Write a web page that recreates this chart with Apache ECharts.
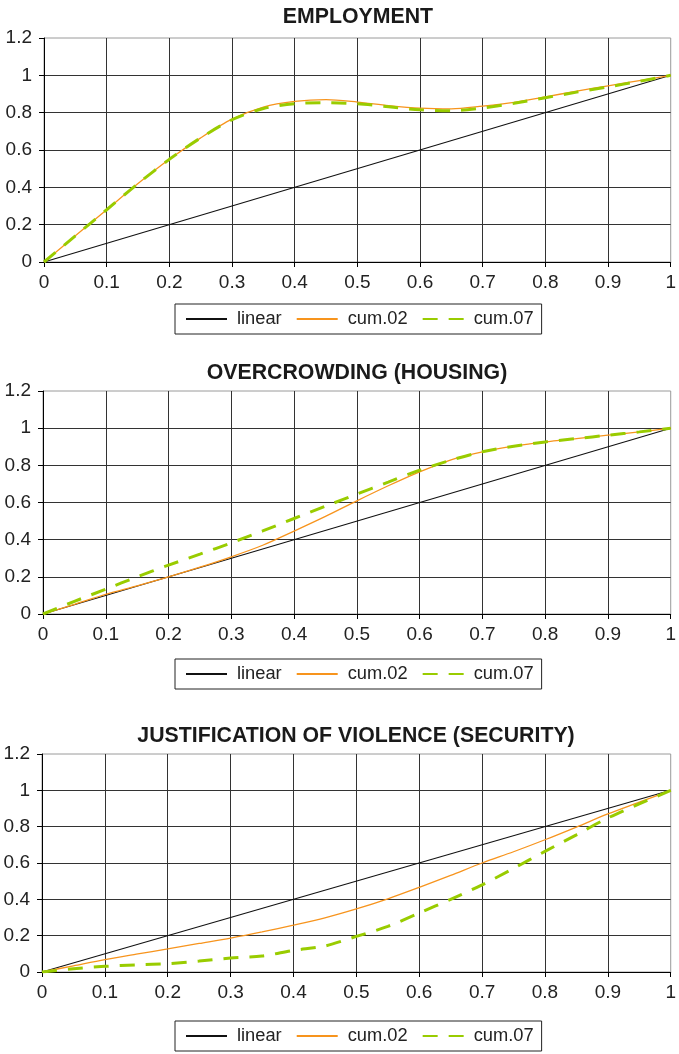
<!DOCTYPE html>
<html>
<head>
<meta charset="utf-8">
<script src="https://cdn.jsdelivr.net/npm/echarts@6/dist/echarts.min.js"></script>
<style>
html,body{margin:0;padding:0;background:#fff;}
#c{width:679px;height:1054px;}
</style>
</head>
<body>
<div id="c"></div>
<script>
// ---- data ----
const titles = ['EMPLOYMENT', 'OVERCROWDING (HOUSING)', 'JUSTIFICATION OF VIOLENCE (SECURITY)'];
const seriesNames = ['linear', 'cum.02', 'cum.07'];
const xValues = [0, 0.05, 0.1, 0.15, 0.2, 0.25, 0.3, 0.35, 0.4, 0.45, 0.5, 0.55, 0.6, 0.65, 0.7, 0.75, 0.8, 0.85, 0.9, 0.95, 1];
const linearX = [0, 1];
const linearY = [0, 1];

const employment02 = [0, 0.14, 0.28, 0.42, 0.55, 0.665, 0.765, 0.83, 0.86, 0.87, 0.857, 0.838, 0.824, 0.82, 0.835, 0.855, 0.885, 0.915, 0.944, 0.972, 1];
const employment07 = [0, 0.14, 0.28, 0.42, 0.55, 0.665, 0.762, 0.822, 0.848, 0.853, 0.848, 0.832, 0.815, 0.81, 0.825, 0.85, 0.88, 0.91, 0.938, 0.968, 1];

const housing02 = [0, 0.052, 0.106, 0.152, 0.2, 0.252, 0.308, 0.37, 0.446, 0.525, 0.609, 0.69, 0.765, 0.83, 0.873, 0.903, 0.926, 0.944, 0.962, 0.98, 1];
const housing07 = [0, 0.068, 0.134, 0.2, 0.263, 0.322, 0.383, 0.447, 0.514, 0.58, 0.645, 0.71, 0.774, 0.828, 0.873, 0.903, 0.926, 0.944, 0.962, 0.98, 1];

const security02 = [0, 0.034, 0.068, 0.098, 0.127, 0.157, 0.187, 0.221, 0.258, 0.298, 0.347, 0.403, 0.466, 0.532, 0.6, 0.662, 0.728, 0.798, 0.87, 0.935, 1];
const security07 = [0, 0.018, 0.031, 0.039, 0.046, 0.06, 0.077, 0.088, 0.119, 0.143, 0.196, 0.251, 0.325, 0.4, 0.48, 0.57, 0.664, 0.755, 0.848, 0.925, 1];

const panels = [
  {title: titles[0], s02: employment02, s07: employment07},
  {title: titles[1], s02: housing02, s07: housing07},
  {title: titles[2], s02: security02, s07: security07}
];

// ---- layout ----
const FONT = '"Liberation Sans", Arial, Helvetica, sans-serif';
const layout = [
  {titleTop: 2, left: 44, top: 38, width: 630, height: 224, legendTop: 304},
  {titleTop: 358, left: 43, top: 391, width: 630, height: 223, legendTop: 659},
  {titleTop: 721, left: 42, top: 754, width: 631, height: 218, legendTop: 1021}
];
const titleCenter = [353, 352, 351];

const COLORS = {linear: '#111111', c02: '#F7941D', c07: '#99CC00'};

const option = {
  backgroundColor: '#ffffff',
  animation: false,
  title: [], grid: [], xAxis: [], yAxis: [], legend: [], series: []
};

function pairs(xs, ys) { return xs.map((x, i) => [x, ys[i]]); }

panels.forEach((p, i) => {
  const L = layout[i];
  option.title.push({
    text: p.title, left: titleCenter[i], top: L.titleTop, textAlign: 'center',
    textStyle: {fontFamily: FONT, fontSize: 21.3, fontWeight: 'bold', color: '#1a1a1a'}
  });
  option.grid.push({
    left: L.left, top: L.top, width: L.width, height: L.height,
    show: true, borderColor: '#9a9a9a', borderWidth: 1, backgroundColor: 'transparent'
  });
  option.xAxis.push({
    type: 'value', gridIndex: i, min: 0, max: 1, interval: 0.1,
    axisLine: {show: true, onZero: false, lineStyle: {color: '#000', width: 1}},
    axisTick: {show: true, length: 5, lineStyle: {color: '#000'}},
    axisLabel: {margin: 11, fontFamily: FONT, fontSize: 19, color: '#222'},
    splitLine: {show: true, showMinLine: false, showMaxLine: false, lineStyle: {color: '#333', width: 1}}
  });
  option.yAxis.push({
    type: 'value', gridIndex: i, min: 0, max: 1.2, interval: 0.2,
    axisLine: {show: true, onZero: false, lineStyle: {color: '#000', width: 1}},
    axisTick: {show: true, length: 5, lineStyle: {color: '#000'}},
    axisLabel: {margin: 12, fontFamily: FONT, fontSize: 19, color: '#222'},
    splitLine: {show: true, showMinLine: false, showMaxLine: false, lineStyle: {color: '#333', width: 1}}
  });
  const ids = seriesNames.map(n => n + '_' + i);
  option.legend.push({
    left: 175, top: L.legendTop, orient: 'horizontal',
    borderColor: '#222', borderWidth: 1, padding: [6, 8, 6, 10],
    itemWidth: 41, itemHeight: 14, itemGap: 14,
    selectedMode: false,
    itemStyle: {color: 'rgba(0,0,0,0)', borderColor: 'rgba(0,0,0,0)', borderWidth: 0, opacity: 0},
    textStyle: {fontFamily: FONT, fontSize: 18.3, color: '#222', padding: [0, 0, 0, 5]},
    data: ids.map(id => ({name: id})),
    formatter: function (name) { return name.split('_')[0]; }
  });
  option.series.push({
    name: ids[0], type: 'line', xAxisIndex: i, yAxisIndex: i,
    data: pairs(linearX, linearY), symbol: 'none', showSymbol: false,
    lineStyle: {color: COLORS.linear, width: 1.1}, itemStyle: {color: COLORS.linear}, z: 3
  });
  option.series.push({
    name: ids[1], type: 'line', xAxisIndex: i, yAxisIndex: i,
    data: pairs(xValues, p.s02), symbol: 'none', showSymbol: false, smooth: 0.3,
    lineStyle: {color: COLORS.c02, width: 1.3}, itemStyle: {color: COLORS.c02}, z: 4
  });
  option.series.push({
    name: ids[2], type: 'line', xAxisIndex: i, yAxisIndex: i,
    data: pairs(xValues, p.s07), symbol: 'none', showSymbol: false, smooth: 0.3,
    lineStyle: {color: COLORS.c07, width: 3, type: [15, 11]}, itemStyle: {color: COLORS.c07}, z: 5
  });
});

const chart = echarts.init(document.getElementById('c'), null, {renderer: 'canvas'});
chart.setOption(option);
</script>
</body>
</html>
